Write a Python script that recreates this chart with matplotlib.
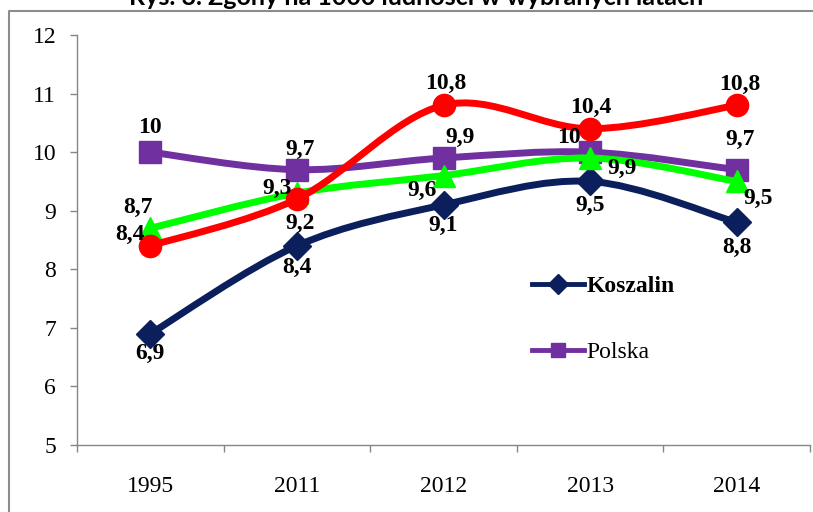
import numpy as np
from matplotlib import pyplot as plt
from matplotlib.path import Path
from matplotlib.patches import PathPatch
from matplotlib.lines import Line2D

# dane z wykresu
years = ['1995', '2011', '2012', '2013', '2014']
koszalin = [6.9, 8.4, 9.1, 9.5, 8.8]
polska = [10, 9.7, 9.9, 10, 9.7]
red_series = [8.4, 9.2, 10.8, 10.4, 10.8]
green_series = [8.7, 9.3, 9.6, 9.9, 9.5]

title = 'Rys. 3. Zgony na 1000 ludności w wybranych latach'
serif = ['Liberation Serif', 'DejaVu Serif']

fig = plt.figure(figsize=(8.13, 5.12), dpi=100)
ax = fig.add_axes([77 / 813, 1 - 445 / 512, (810 - 77) / 813, (445 - 35) / 512])


def smooth_path(xs, ys):
    # krzywa jak "wygładzona linia" w Excelu (Catmull-Rom -> Bezier)
    pts = np.column_stack([xs, ys]).astype(float)
    n = len(pts)
    verts = [pts[0]]
    codes = [Path.MOVETO]
    for i in range(n - 1):
        p0 = pts[max(i - 1, 0)]
        p1 = pts[i]
        p2 = pts[i + 1]
        p3 = pts[min(i + 2, n - 1)]
        c1 = p1 + (p2 - p0) / 6
        c2 = p2 - (p3 - p1) / 6
        verts += [c1, c2, p2]
        codes += [Path.CURVE4] * 3
    return Path(verts, codes)


x = np.arange(len(years))
series = [
    (koszalin, '#0b1f5c', 'D', 14, 'Koszalin'),
    (polska, '#7030a0', 's', 16, 'Polska'),
    (green_series, '#00ff00', '^', 16, None),
    (red_series, '#ff0000', 'o', 16, None),
]
handles = []
for z, (vals, col, mk, ms, name) in enumerate(series):
    patch = PathPatch(smooth_path(x, vals), facecolor='none', edgecolor=col,
                      lw=5, zorder=3 + z * 2, capstyle='round', joinstyle='round')
    ax.add_patch(patch)
    ax.plot(x, vals, linestyle='none', marker=mk, ms=ms, color=col, zorder=4 + z * 2)
    if name:
        handles.append(Line2D([], [], color=col, lw=3.5, marker=mk, ms=10, label=name))

# etykiety danych (przesunięcia w px)
offsets = {
    0: [(0, -20), (0, -22), (0, -21), (0, -24), (0, -25)],
    1: [(0, 25), (3, 20), (17, 21), (-21, 15), (3, 30)],
    2: [(-12, 21), (-20, 5), (-21, -15), (32, -10), (21, -17)],
    3: [(-20, 11), (3, -24), (2, 22), (1, 21), (3, 21)],
}
for k, (vals, col, mk, ms, name) in enumerate(series):
    for i, v in enumerate(vals):
        dx, dy = offsets[k][i]
        ax.annotate(f'{v:g}'.replace('.', ','), (x[i], v),
                    xytext=(dx * 0.72, dy * 0.72), textcoords='offset points',
                    ha='center', va='center', fontsize=17, fontweight='bold',
                    family=serif, color='black', zorder=20)

ax.set_xlim(-0.5, len(years) - 0.5)
ax.set_ylim(5, 12)
ax.set_yticks(range(5, 13))
ax.set_xticks(x)
ax.set_xticklabels(years)
ax.set_xticks(np.arange(-0.5, len(years)), minor=True)
ax.tick_params(axis='x', which='major', length=0, pad=22, labelsize=17)
ax.tick_params(axis='x', which='minor', length=5, color='#868686', width=1)
ax.tick_params(axis='y', length=5, color='#868686', width=1, labelsize=17, pad=10)
for lab in ax.get_xticklabels() + ax.get_yticklabels():
    lab.set_family(serif)
for s in ['top', 'right']:
    ax.spines[s].set_visible(False)
for s in ['left', 'bottom']:
    ax.spines[s].set_color('#868686')
    ax.spines[s].set_linewidth(1)

leg = ax.legend(handles=handles, loc='upper left', frameon=False,
                prop={'family': serif, 'size': 17},
                handlelength=2.2, handletextpad=0.1, labelspacing=1.9, borderaxespad=0)
leg.get_texts()[0].set_fontweight('bold')
leg.set_bbox_to_anchor((523 / 813, 1 - 266 / 512), transform=fig.transFigure)

# ramka wokół wykresu (obcięta z prawej i u dołu)
fig.add_artist(Line2D([9 / 813, 9 / 813, 1], [0, 1 - 11 / 512, 1 - 11 / 512],
                      transform=fig.transFigure, color='#8c8c8c', lw=1.5))
fig.text(416 / 813, 1 - 5 / 512, title, ha='center', va='baseline',
         fontsize=18, fontweight='bold', family=['Lato', 'DejaVu Sans'])

fig.savefig('out.png', dpi=100)
